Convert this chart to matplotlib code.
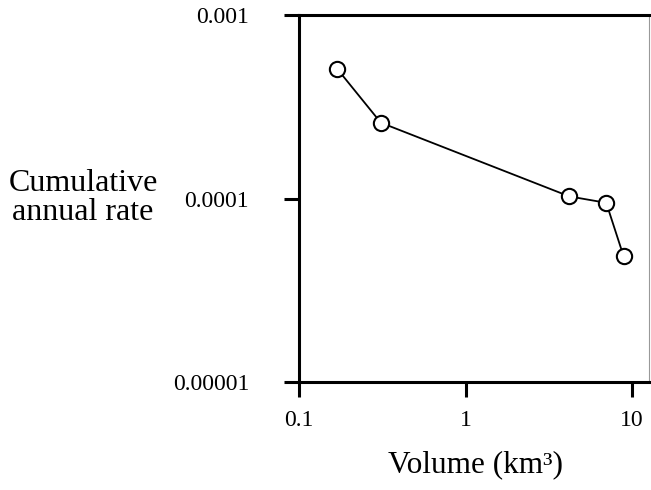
import numpy as np
import matplotlib
matplotlib.use('Agg')
import matplotlib.pyplot as plt
from matplotlib.ticker import FixedLocator, FixedFormatter, NullLocator

plt.rcParams['font.family'] = ['Liberation Serif', 'DejaVu Serif']

# data
volume = [0.17, 0.31, 4.2, 7.0, 8.9]            # km^3
rate = [5.1e-4, 2.6e-4, 1.03e-4, 9.5e-5, 4.85e-5]  # cumulative annual rate

x_ticks = [0.1, 1, 10]
x_tick_labels = ['0.1', '1', '10']
y_ticks = [1e-5, 1e-4, 1e-3]
y_tick_labels = ['0.00001', '0.0001', '0.001']

fig = plt.figure(figsize=(6.51, 4.90), dpi=100)
ax = fig.add_axes([0.4593, 0.2204, 0.5377, 0.7480])

ax.plot(volume, rate, color='black', lw=1.3, marker='o', ms=11,
        mfc='white', mec='black', mew=1.5, zorder=3)

ax.set_xscale('log')
ax.set_yscale('log')
ax.set_xlim(0.1, 12.65)
ax.set_ylim(1e-5, 1e-3)

ax.xaxis.set_major_locator(FixedLocator(x_ticks))
ax.xaxis.set_major_formatter(FixedFormatter(x_tick_labels))
ax.yaxis.set_major_locator(FixedLocator(y_ticks))
ax.yaxis.set_major_formatter(FixedFormatter(y_tick_labels))
ax.xaxis.set_minor_locator(NullLocator())
ax.yaxis.set_minor_locator(NullLocator())

for side in ['left', 'bottom', 'top']:
    ax.spines[side].set_linewidth(2.2)
ax.spines['right'].set_linewidth(0.8)
ax.spines['right'].set_color('#999999')

ax.tick_params(axis='x', direction='out', length=11, width=2.2, pad=9, labelsize=17)
ax.tick_params(axis='y', direction='out', length=11, width=2.2, pad=25, labelsize=17)

fig.text(475 / 651, 1 - 465 / 490, 'Volume (km³)', ha='center', va='center', fontsize=22.5)
fig.text(83 / 651, 1 - 198 / 490, 'Cumulative\nannual rate', ha='center', va='center',
         fontsize=23, linespacing=1.0)

fig.savefig('out.png', dpi=100)
